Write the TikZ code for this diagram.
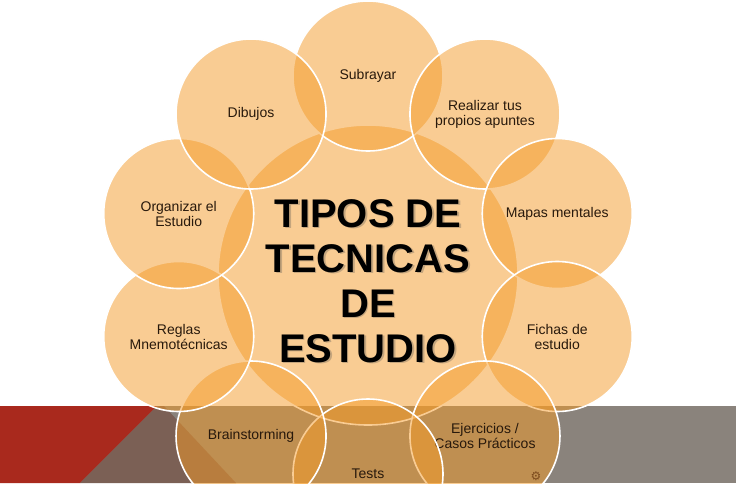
\documentclass[tikz,border=0pt]{standalone}
\usepackage{fontspec}
\usetikzlibrary{calc}
\setmainfont{Liberation Sans}
\newfontfamily\symfont{DejaVu Sans}
\definecolor{circfill}{RGB}{245,155,40}
\definecolor{bandred}{RGB}{169,41,29}
\definecolor{bandbrown}{RGB}{123,96,85}
\definecolor{bandgray}{RGB}{138,131,124}
\definecolor{labeltext}{RGB}{40,25,12}
\definecolor{gearcol}{RGB}{125,75,30}
\tikzset{
  bubble/.style={circle, minimum size=150pt, inner sep=0pt, fill=circfill,
    fill opacity=0.5, draw=white, draw opacity=1, line width=1.6pt,
    text opacity=1, text=labeltext, align=center,
    font=\fontsize{14}{15}\selectfont},
  hub/.style={bubble, minimum size=300pt},
  titletext/.style={inner sep=0pt, align=center,
    font=\bfseries\fontsize{40}{45}\selectfont},
}
\begin{document}
\begin{tikzpicture}[x=1pt,y=-1pt]
\useasboundingbox (0,0) rectangle (736,483);
\fill[white] (0,0) rectangle (736,483);
% bottom band
\fill[bandgray] (0,406) rectangle (736,483);
\fill[bandred] (0,406) -- (157,406) -- (80,483) -- (0,483) -- cycle;
\fill[bandbrown] (157,406) -- (164,406) -- (236,483) -- (80,483) -- cycle;
% central circle and title
\node[hub] (hub) at (368,275) {};
\node[titletext, text=black!70, opacity=0.3] (titleshadow) at (369.5,282.5)
  {TIPOS DE\\TECNICAS\\DE\\ESTUDIO};
\node[titletext, text=black] (title) at (368,281)
  {TIPOS DE\\TECNICAS\\DE\\ESTUDIO};
% outer circles, clockwise from top (y axis points down, so angles are mirrored)
\node[bubble] (subrayar)   at ($(368,275)+(-90:199)$)  {Subrayar};
\node[bubble] (apuntes)    at ($(368,275)+(-54:199)$)  {Realizar tus\\propios apuntes};
\node[bubble] (mapas)      at ($(368,275)+(-18:199)$)  {Mapas mentales};
\node[bubble] (fichas)     at ($(368,275)+(18:199)$) {Fichas de\\estudio};
\node[bubble] (ejercicios) at ($(368,275)+(54:199)$) {Ejercicios /\\Casos Prácticos};
\node[bubble] (tests)      at ($(368,275)+(90:199)$) {Tests};
\node[bubble] (brain)      at ($(368,275)+(126:199)$) {Brainstorming};
\node[bubble] (reglas)     at ($(368,275)+(162:199)$) {Reglas\\Mnemotécnicas};
\node[bubble] (organizar)  at ($(368,275)+(-162:199)$) {Organizar el\\Estudio};
\node[bubble] (dibujos)    at ($(368,275)+(-126:199)$) {Dibujos};
% small gear icon
\node[text=gearcol, inner sep=0pt, font=\symfont\fontsize{12}{12}\selectfont] (gear) at (536,476) {⚙};
\end{tikzpicture}
\end{document}
